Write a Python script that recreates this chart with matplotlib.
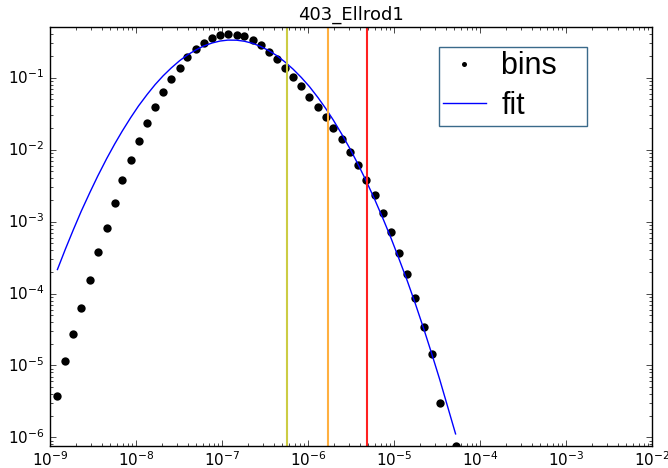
import numpy as np
import matplotlib
matplotlib.use("Agg")
import matplotlib.pyplot as plt

plt.style.use("classic")

# bin centres and normalised counts
bin_x = [1.22e-9, 1.51e-9, 1.87e-9, 2.31e-9, 2.92e-9, 3.59e-9, 4.56e-9, 5.65e-9,
         6.93e-9, 8.67e-9, 1.07e-8, 1.35e-8, 1.67e-8, 2.06e-8, 2.57e-8, 3.22e-8,
         3.95e-8, 4.94e-8, 6.14e-8, 7.71e-8, 9.48e-8, 1.17e-7, 1.48e-7, 1.82e-7,
         2.28e-7, 2.82e-7, 3.49e-7, 4.37e-7, 5.36e-7, 6.70e-7, 8.36e-7, 1.04e-6,
         1.31e-6, 1.61e-6, 1.97e-6, 2.48e-6, 3.08e-6, 3.79e-6, 4.76e-6, 5.97e-6,
         7.52e-6, 9.23e-6, 1.13e-5, 1.43e-5, 1.77e-5, 2.23e-5, 2.74e-5, 3.39e-5,
         5.20e-5]
bin_y = [3.77e-6, 1.16e-5, 2.72e-5, 6.26e-5, 1.54e-4, 3.77e-4, 8.15e-4, 1.82e-3,
         3.76e-3, 7.08e-3, 1.33e-2, 2.36e-2, 3.94e-2, 6.32e-2, 9.59e-2, 0.138,
         0.194, 0.249, 0.304, 0.357, 0.394, 0.410, 0.397, 0.381,
         0.335, 0.288, 0.228, 0.182, 0.136, 0.101, 7.66e-2, 5.43e-2,
         3.91e-2, 2.81e-2, 1.99e-2, 1.40e-2, 9.17e-3, 6.12e-3, 3.85e-3, 2.34e-3,
         1.32e-3, 7.26e-4, 3.70e-4, 1.89e-4, 8.63e-5, 3.40e-5, 1.43e-5, 3.01e-6,
         7.59e-7]

# fitted curve, evaluated at the same bin centres
fit_y = [2.16e-4, 4.15e-4, 7.74e-4, 1.40e-3, 2.57e-3, 4.30e-3, 7.52e-3, 1.20e-2,
         1.82e-2, 2.79e-2, 4.06e-2, 5.88e-2, 8.05e-2, 0.106, 0.137, 0.173,
         0.207, 0.243, 0.277, 0.305, 0.324, 0.334, 0.333, 0.322,
         0.301, 0.272, 0.239, 0.202, 0.167, 0.132, 0.101, 7.53e-2,
         5.28e-2, 3.73e-2, 2.58e-2, 1.63e-2, 1.03e-2, 6.38e-3, 3.66e-3, 2.03e-3,
         1.07e-3, 5.90e-4, 3.15e-4, 1.49e-4, 7.23e-5, 3.17e-5, 1.47e-5, 6.47e-6,
         1.12e-6]

# threshold markers
thresholds = [5.70e-7, 1.69e-6, 4.82e-6]
thr_colors = ["#cccc44", "#ffb040", "#ff2020"]

fig = plt.figure(figsize=(6.68, 4.68), dpi=100, facecolor="white")
ax = fig.add_axes([50 / 668, 22 / 468, 602 / 668, 419 / 468])

ax.plot(bin_x, bin_y, "ko", markersize=6, markeredgewidth=0, label="bins   ")
ax.plot(bin_x, fit_y, color="b", linewidth=1, label="fit")
for xv, c in zip(thresholds, thr_colors):
    ax.axvline(xv, color=c, linewidth=1.5)

ax.set_xscale("log")
ax.set_yscale("log")
ax.set_xlim(1e-9, 1e-2)
ax.set_ylim(7.6e-7, 0.508)
ax.set_title("403_Ellrod1", fontsize=13)
ax.tick_params(labelsize=11)
ax.tick_params(axis="x", pad=3)

leg = ax.legend(loc="upper right", bbox_to_anchor=(0.892, 0.953), numpoints=1,
                markerscale=0.6, handlelength=1.4, handletextpad=0.5,
                labelspacing=0.32, borderpad=0.15, borderaxespad=0,
                fancybox=False, prop={"family": "Liberation Sans", "size": 22})
leg.get_frame().set_edgecolor("#3a6a8a")

fig.savefig("out.png", dpi=100, facecolor="white")
